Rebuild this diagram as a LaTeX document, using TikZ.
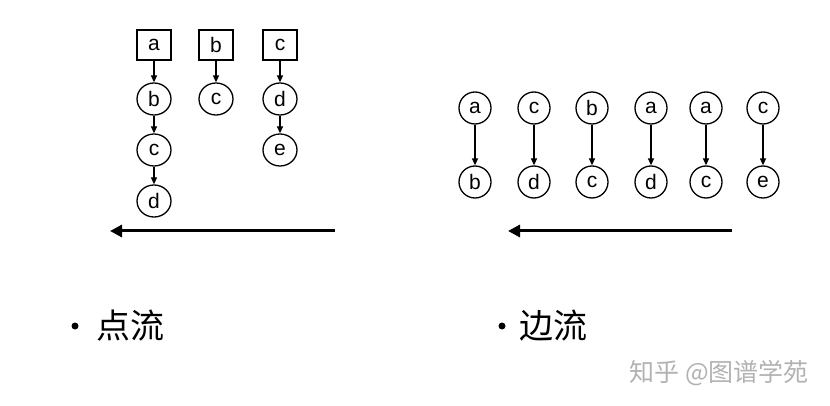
\documentclass[tikz,border=0pt]{standalone}
\usepackage{fontspec}
\setmainfont{Liberation Sans}
\newfontfamily\cjk{Noto Sans CJK SC}
\newfontfamily\cjklight{Noto Sans CJK SC Light}
\usetikzlibrary{arrows.meta,shapes.geometric}
\tikzset{
  boxn/.style={draw, line width=1.3pt, minimum width=34pt, minimum height=30pt, inner sep=0pt, font=\fontsize{21}{21}\selectfont},
  circn/.style={draw, ellipse, line width=1.3pt, minimum width=34pt, minimum height=32pt, inner sep=0pt, font=\fontsize{21}{21}\selectfont},
  circr/.style={draw, ellipse, line width=1.3pt, minimum width=32pt, minimum height=32pt, inner sep=0pt, font=\fontsize{21}{21}\selectfont},
  link/.style={line width=1.3pt, -{Triangle[length=7pt,width=6pt]}},
  bigarrow/.style={line width=3pt, -{Triangle[length=12pt,width=12pt]}},
  label/.style={font=\cjk\fontsize{34}{34}\selectfont, anchor=west},
}
\begin{document}
\begin{tikzpicture}[x=1pt,y=-1pt]
\useasboundingbox (0,0) rectangle (830,406);
% point stream
\node[boxn] (A) at (154,45) {a};
\node[circn] (Ab) at (154,99) {b};
\node[circn] (Ac) at (154,150) {c};
\node[circn] (Ad) at (154,201) {d};
\node[boxn] (B) at (216,45) {b};
\node[circn] (Bc) at (216,99) {c};
\node[boxn] (C) at (280,45) {c};
\node[circn] (Cd) at (280,99) {d};
\node[circn] (Ce) at (280,150) {e};
\draw[link] (A) -- (Ab);
\draw[link] (Ab) -- (Ac);
\draw[link] (Ac) -- (Ad);
\draw[link] (B) -- (Bc);
\draw[link] (C) -- (Cd);
\draw[link] (Cd) -- (Ce);
\coordinate (L1s) at (335,231);
\coordinate (L1e) at (110,231);
\draw[bigarrow] (L1s) -- (L1e);
% edge stream
\foreach \i/\x/\s/\t in {1/475/a/b, 2/534/c/d, 3/592/b/c, 4/651/a/d, 5/706/a/c, 6/763/c/e}{
  \node[circr] (S\i) at (\x,108) {\s};
  \node[circr] (T\i) at (\x,182) {\t};
  \draw[link] (S\i) -- (T\i);
}
\coordinate (L2s) at (732,231);
\coordinate (L2e) at (508,231);
\draw[bigarrow] (L2s) -- (L2e);
% labels
\node[circle, fill, inner sep=0pt, minimum size=7pt] (b1) at (75,326) {};
\node[label] (t1) at (93,326) {点流};
\node[circle, fill, inner sep=0pt, minimum size=7pt] (b2) at (502,326) {};
\node[label] (t2) at (516,326) {边流};
\node[font=\cjk\fontsize{25}{25}\selectfont, text=black!30, anchor=west] (wm) at (626,373) {知乎 @图谱学苑};
\end{tikzpicture}
\end{document}
